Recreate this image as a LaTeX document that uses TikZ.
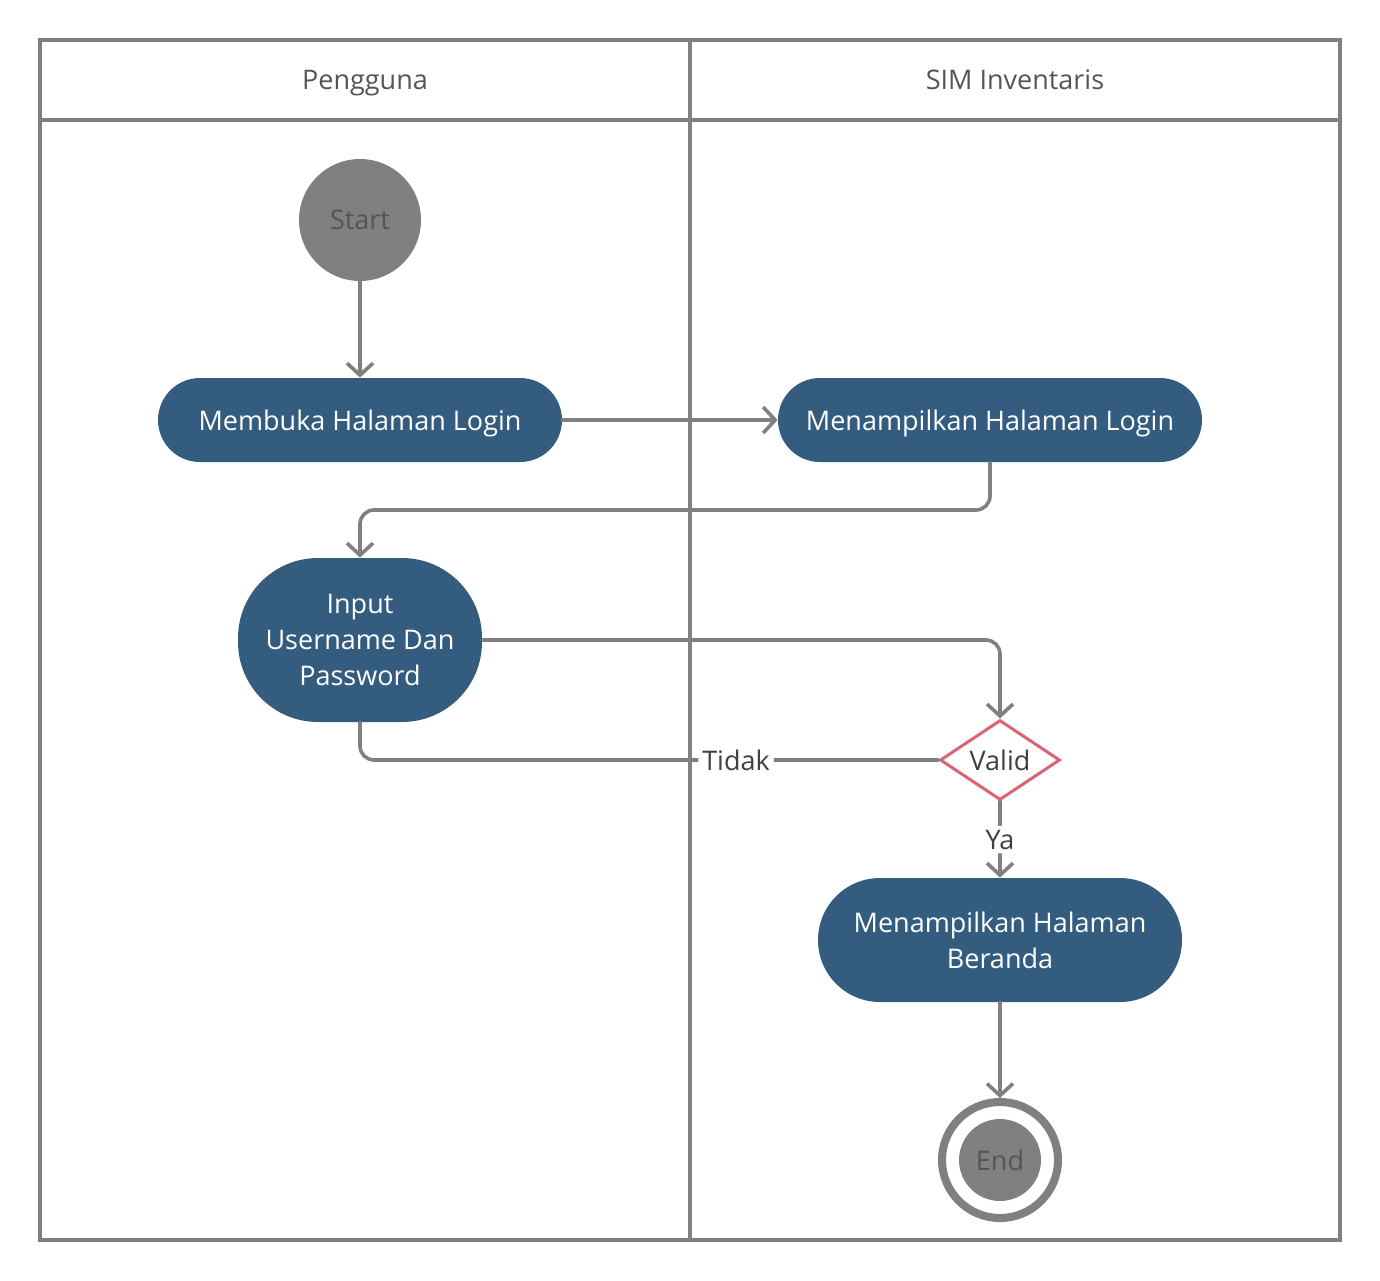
\documentclass[tikz,border=0pt]{standalone}
\usepackage{fontspec}
\setmainfont{Open Sans}
\usetikzlibrary{arrows.meta,shapes.geometric}
\definecolor{linegray}{RGB}{128,128,128}
\definecolor{textgray}{RGB}{85,85,85}
\definecolor{labelgray}{RGB}{64,64,64}
\definecolor{actblue}{RGB}{52,92,126}
\definecolor{decred}{RGB}{217,100,115}
\tikzset{
  lane/.style={draw=linegray, line width=1.8pt},
  activity/.style={fill=actblue, text=white, inner sep=0pt, align=center,
    font=\fontsize{13.5}{18}\selectfont},
  oneline/.style={text depth=0pt},
  startnode/.style={circle, fill=linegray, minimum size=61pt, inner sep=0pt,
    text=textgray, font=\fontsize{13.5}{16}\selectfont},
  endring/.style={circle, draw=linegray, line width=4pt, fill=white,
    minimum size=58pt, inner sep=0pt},
  endcore/.style={circle, fill=linegray, minimum size=41pt, inner sep=0pt,
    text=textgray, font=\fontsize{13.5}{16}\selectfont},
  decision/.style={diamond, draw=decred, line width=1.5pt, fill=white,
    minimum width=60pt, minimum height=40pt, aspect=1.5, inner sep=0pt,
    text=labelgray, font=\fontsize{13.5}{16}\selectfont},
  conn/.style={draw=linegray, line width=1.8pt, line cap=round, rounded corners=7pt},
  flow/.style={conn, -{Straight Barb[length=6pt,width=13pt,line width=1.8pt]}},
  edgelabel/.style={fill=white, inner sep=2pt, text=labelgray,
    font=\fontsize{13.5}{16}\selectfont},
  headtext/.style={text=textgray, text depth=0pt, font=\fontsize{13.5}{16}\selectfont}
}
\begin{document}
\begin{tikzpicture}[x=0.5pt,y=-0.5pt]
  \useasboundingbox (0,0) rectangle (1380,1280);
  % swimlanes
  \draw[lane] (40,40) rectangle (1340,1240);
  \draw[lane] (40,120) -- (1340,120);
  \draw[lane] (690,40) -- (690,1240);
  \node[headtext] (laneA) at (365,80) {Pengguna};
  \node[headtext] (laneB) at (1015,80) {SIM Inventaris};

  % activities
  \node[startnode] (start) at (360,220) {Start};
  \node[activity, oneline, minimum width=202pt, minimum height=42pt, rounded corners=21pt]
    (membuka) at (360,420) {Membuka Halaman Login};
  \node[activity, oneline, minimum width=212pt, minimum height=42pt, rounded corners=21pt]
    (tampil) at (990,420) {Menampilkan Halaman Login};
  \node[activity, minimum width=122pt, minimum height=82pt, rounded corners=40pt]
    (input) at (360,640) {Input\\Username Dan\\Password};
  \node[decision] (valid) at (1000,760) {Valid};
  \node[activity, minimum width=182pt, minimum height=62pt, rounded corners=31pt]
    (beranda) at (1000,940) {Menampilkan Halaman\\Beranda};
  \node[endring] (end) at (1000,1160) {};
  \node[endcore] (endcore) at (end.center) {End};

  % connectors
  \coordinate (turnA) at (0,510);
  \draw[flow] (start) -- (membuka);
  \draw[flow] (membuka) -- (tampil);
  \draw[flow] (tampil.south) -- (tampil.south |- turnA) -| (input.north);
  \draw[flow] (input.east) -| (valid.north);
  \draw[conn] (valid.west) -| node[edgelabel, pos=0.175] {Tidak} (input.south);
  \draw[flow] (valid.south) -- node[edgelabel] {Ya} (beranda.north);
  \draw[flow] (beranda.south) -- (end.north);
\end{tikzpicture}
\end{document}
